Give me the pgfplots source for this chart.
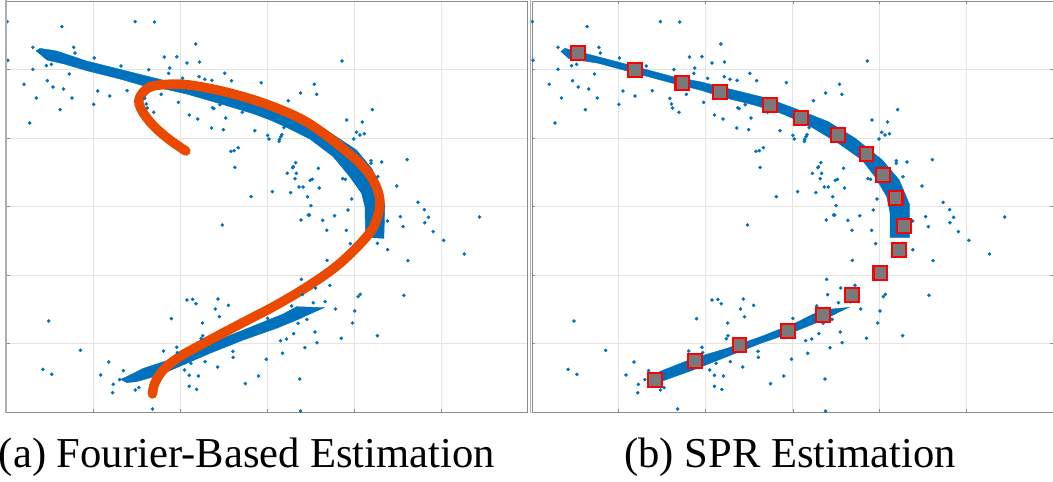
\documentclass[border=0pt]{standalone}
\usepackage{fontspec}
\setmainfont{Liberation Serif}
\usepackage{pgfplots}
\usepackage{pgfplotstable}
\pgfplotsset{compat=1.18}
\definecolor{mblue}{HTML}{0072BD}
\definecolor{morange}{HTML}{E94A00}
\definecolor{gridc}{HTML}{E4E4E4}
\definecolor{spine}{HTML}{8C8C8C}
\pgfplotstableread{
x y
21 65
400 65
457 66
183 80
23 181
579 132
97 142
218 142
222 159
279 174
486 171
523 170
553 189
590 186
1012 183
137 197
152 193
358 198
97 208
440 209
502 204
499 220
205 222
665 220
140 242
540 235
589 230
606 238
627 241
685 242
773 248
71 253
157 261
188 267
930 253
289 273
376 272
889 279
937 283
107 294
213 294
325 288
477 283
428 295
853 302
528 307
277 313
433 312
436 324
178 329
629 323
633 326
651 314
717 337
455 337
1102 329
560 345
585 357
668 354
88 369
1026 360
1072 366
626 384
661 389
754 392
840 383
1055 397
1078 401
1065 405
792 406
796 417
834 404
831 410
827 418
826 424
1047 417
705 443
693 452
683 454
695 502
875 488
868 500
866 503
850 520
877 520
942 505
1098 482
1098 490
1130 486
1205 479
873 536
1014 536
1022 538
924 538
918 541
1118 530
885 561
897 561
945 564
860 578
806 575
1174 558
743 590
910 590
1041 597
1237 607
920 617
1030 630
1256 629
1185 650
1268 652
1419 651
912 645
916 645
990 647
891 660
955 661
1147 663
1257 668
658 675
1193 680
967 691
1025 691
1282 695
1313 721
1037 731
1117 730
1147 749
1374 762
1207 782
968 781
892 838
976 856
934 864
895 884
1060 890
1066 883
1195 886
553 900
570 898
580 911
645 897
676 916
637 927
927 908
962 905
993 927
1050 933
649 950
507 956
144 963
599 969
1043 969
882 970
908 958
932 996
1010 1015
1117 1007
869 1001
848 1017
830 1022
938 1028
600 1007
595 1016
902 1043
523 1042
484 1053
525 1058
238 1051
689 1054
690 1072
836 1060
788 1078
322 1086
607 1085
565 1090
644 1101
127 1108
365 1112
546 1110
153 1123
298 1125
560 1126
587 1128
765 1128
887 1137
335 1153
726 1151
560 1159
411 1163
400 1170
582 1168
333 1178
451 1227
889 1233
863 918
792 955
354 1139
}\outliers
\pgfplotsset{panel/.style={
  scale only axis, width=521pt, height=411pt,
  xmin=20, xmax=1562, ymin=3, ymax=1236, y dir=reverse,
  xtick={276,534,792,1048,1306}, ytick={208,414,620,825,1030},
  xticklabels={}, yticklabels={},
  grid=major, grid style={gridc,line width=0.7pt},
  tick align=inside, major tick length=3pt,
  tick style={spine,line width=0.6pt},
  axis line style={spine,line width=0.9pt},
  clip=true,
  anchor=north west,
}}
\begin{document}
\begin{tikzpicture}[x=1pt,y=1pt]
\useasboundingbox (0,0) rectangle (1053,482);
\begin{axis}[panel, at={(6.8pt,481pt)}, xtick pos=bottom, ytick pos=left]
\addplot[only marks, mark=*, mark size=1.6pt, mblue, mark options={draw=none}] table[x=x,y=y] {\outliers};
\addplot[fill=mblue, draw=mblue] coordinates {
(106,153)(118,145)(168,153)(256,183)(355,208)(473,238)(600,268)(700,293)(799,316)(848,333)(947,378)(1055,450)(1100,505)(1124,560)(1139,615)(1136,715)
(1082,712)(1080,620)(1070,580)(1035,530)(986,470)(917,417)(848,382)(799,360)(749,341)(651,311)(552,282)(473,264)(423,257)(355,237)(256,212)(190,192)(138,180)};
\addplot[fill=mblue, draw=mblue] coordinates {
(961,923)(878,920)(838,942)(720,990)(621,1030)(523,1072)(424,1105)(375,1130)(357,1138)(375,1148)(404,1145)(473,1125)(621,1060)(720,1020)(818,985)(897,952)};
\addplot[morange, line width=9.5pt, line cap=round, line join=round, smooth, tension=0.6] coordinates {
(550,453)(500,418)(452,375)(419,330)(412,296)(438,264)(483,254)(552,254)(651,272)(749,299)(828,328)(897,360)(960,402)(1020,450)(1065,490)(1104,540)(1124,600)(1114,660)(1085,710)(1006,790)(917,855)(818,915)(720,967)(621,1020)(532,1070)(483,1110)(458,1150)(451,1182)};
\end{axis}
\begin{axis}[panel, at={(532pt,481pt)}, xtick pos=both, ytick pos=both]
\addplot[only marks, mark=*, mark size=1.6pt, mblue, mark options={draw=none}] table[x=x,y=y] {\outliers};
\addplot[fill=mblue, draw=mblue] coordinates {
(105,155)(117,145)(177,160)(297,192)(437,230)(517,245)(617,270)(717,295)(797,325)(897,365)(977,415)(1057,480)(1107,540)(1138,615)(1138,712)
(1080,712)(1080,640)(1070,590)(1035,530)(997,480)(927,430)(837,375)(757,340)(677,315)(597,295)(517,270)(437,250)(297,212)(217,190)(127,175)};
\addplot[fill=mblue, draw=mblue] coordinates {
(960,922)(877,930)(797,970)(697,1010)(597,1045)(497,1075)(397,1115)(387,1150)(497,1110)(597,1070)(697,1030)(797,995)(877,962)(922,940)};
\addplot[only marks, mark=square*, mark size=6.9pt, mark options={draw=red, fill=gray!95!black, line width=2.1pt}] coordinates {
(157,160)(325,210)(465,248)(576,277)(725,315)(817,353)(926,405)(1010,462)(1058,524)(1096,595)(1122,677)
(1106,750)(1051,820)(968,884)(881,944)(778,994)(634,1036)(502,1082)(385,1140)};
\end{axis}
\draw[spine!70,line width=2pt] (5.5,482)--(5.5,69);
\draw[spine!70,line width=1.6pt] (530.5,482)--(530.5,69);
\node[anchor=center, font=\fontsize{42.6}{46}\selectfont] at (247,24.5) {(a) Fourier-Based Estimation};
\node[anchor=center, font=\fontsize{42.6}{46}\selectfont] at (790,24.5) {(b) SPR Estimation};
\end{tikzpicture}
\end{document}
